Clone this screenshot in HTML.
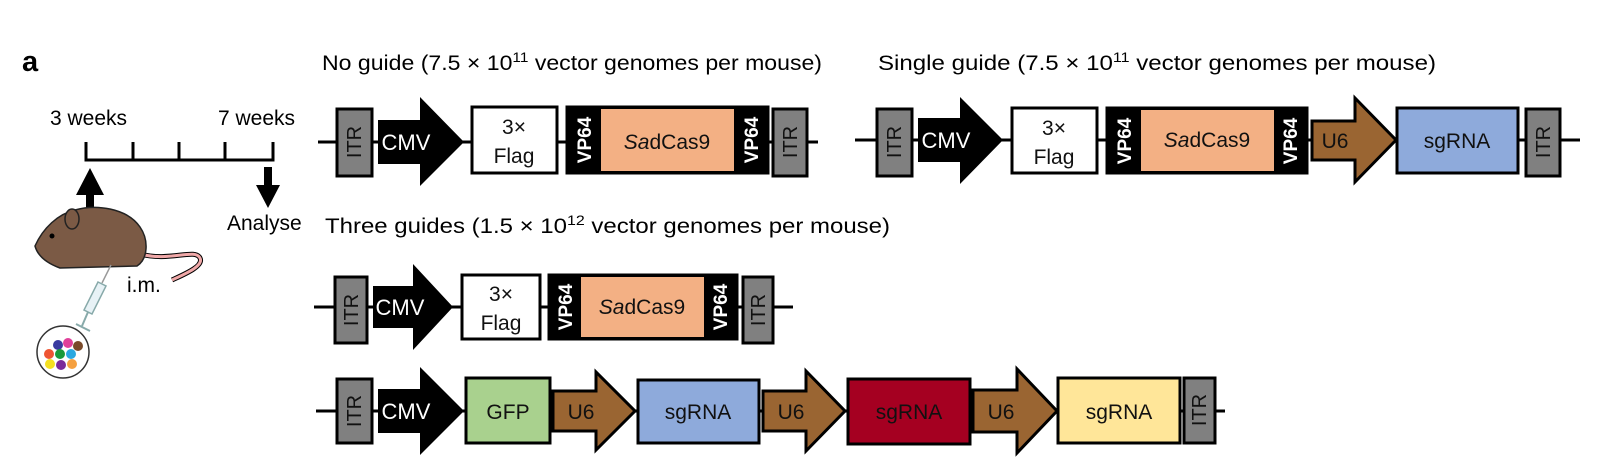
<!DOCTYPE html>
<html><head><meta charset="utf-8"><style>
html,body{margin:0;padding:0;background:#fff;}
svg{display:block;font-family:"Liberation Sans",Arial,sans-serif;}
</style></head><body>
<svg width="1611" height="474" viewBox="0 0 1611 474" xmlns="http://www.w3.org/2000/svg">
<text x="22" y="71" font-size="29" font-weight="bold">a</text>
<text x="50" y="125" font-size="21">3 weeks</text>
<text x="218" y="125" font-size="21">7 weeks</text>
<g stroke="#000" stroke-width="3" fill="none">
<path d="M86 142 V160 H273 V142 M133 142 V160 M179 142 V160 M225 142 V160"/>
</g>
<polygon points="86,208 86,195 76,195 90,168 104,195 94,195 94,208" fill="#000"/>
<polygon points="264,167 272,167 272,185 280,185 268,208 256,185 264,185" fill="#000"/>
<text x="227" y="230" font-size="21">Analyse</text>
<path d="M140 254 C170 262 195 248 200 258 C204 266 185 274 172 280" stroke="#000" stroke-width="5" fill="none"/>
<path d="M140 254 C170 262 195 248 200 258 C204 266 185 274 172 280" stroke="#f0a8a8" stroke-width="3" fill="none"/>
<path d="M35 246 C43 228 58 214 75 210 C96 204 127 208 140 227 C149 240 148 259 137 266 L60 268 C49 264 38 257 35 246 Z" fill="#7b5a45" stroke="#222" stroke-width="1.5"/>
<ellipse cx="72" cy="219" rx="7" ry="10" fill="#7b5a45" stroke="#222" stroke-width="1.5"/>
<circle cx="52" cy="236" r="2.5" fill="#000"/>
<text x="127" y="292" font-size="21">i.m.</text>
<line x1="111" y1="265" x2="102" y2="283" stroke="#999" stroke-width="1.5"/>
<polygon points="98,282 106,286 92,314 84,310" fill="#e8f2f6" stroke="#8aa" stroke-width="1.5"/>
<line x1="88" y1="312" x2="82" y2="326" stroke="#8aa" stroke-width="2"/>
<line x1="76" y1="324" x2="90" y2="331" stroke="#8aa" stroke-width="2"/>
<circle cx="63" cy="352" r="26" fill="#fff" stroke="#333" stroke-width="1.5"/>
<g>
<circle cx="58" cy="345" r="5" fill="#3a3aa0"/><circle cx="68" cy="343" r="5" fill="#e0409a"/><circle cx="78" cy="346" r="5" fill="#7a4a2a"/>
<circle cx="49" cy="354" r="5" fill="#e53"/><circle cx="60" cy="354" r="5" fill="#1a9a3a"/><circle cx="71" cy="354" r="5" fill="#2aa8e0"/>
<circle cx="50" cy="364" r="5" fill="#f5e020"/><circle cx="61" cy="365" r="5" fill="#7a2a9a"/><circle cx="72" cy="364" r="5" fill="#f5a040"/>
</g>

<text x="322" y="70" font-size="21" textLength="500" lengthAdjust="spacingAndGlyphs">No guide (7.5 × 10<tspan dy="-8" font-size="14">11</tspan><tspan dy="8">  vector genomes per mouse)</tspan></text>
<text x="878" y="70" font-size="21" textLength="558" lengthAdjust="spacingAndGlyphs">Single guide (7.5 × 10<tspan dy="-8" font-size="14">11</tspan><tspan dy="8"> vector genomes per mouse)</tspan></text>
<text x="325" y="233" font-size="21" textLength="565" lengthAdjust="spacingAndGlyphs">Three guides (1.5 × 10<tspan dy="-8" font-size="14">12</tspan><tspan dy="8"> vector genomes per mouse)</tspan></text>

<g stroke="#000" stroke-width="3">
<line x1="318" y1="142" x2="818" y2="142"/>
<rect x="337" y="109" width="35" height="67" fill="#808080"/>
<polygon points="378,120 420,120 420,97 464,142 420,186 420,164 378,164" fill="#000" stroke="none"/>
<rect x="472" y="107" width="85" height="66" fill="#fff"/>
<rect x="567" y="107" width="201" height="66" fill="#000"/>
<rect x="601" y="109" width="133" height="62" fill="#f3b084" stroke="none"/>
<rect x="773" y="109" width="34" height="67" fill="#808080"/>

<line x1="855" y1="140" x2="1580" y2="140"/>
<rect x="877" y="109" width="35" height="67" fill="#808080"/>
<polygon points="918,118 960,118 960,97 1003,140 960,184 960,162 918,162" fill="#000" stroke="none"/>
<rect x="1012" y="108" width="85" height="65" fill="#fff"/>
<rect x="1107" y="108" width="200" height="65" fill="#000"/>
<rect x="1141" y="110" width="133" height="61" fill="#f3b084" stroke="none"/>
<polygon points="1312,121 1355,121 1355,98 1396,140 1355,182 1355,160 1312,160" fill="#9a6532"/>
<rect x="1397" y="108" width="121" height="65" fill="#8eaadb"/>
<rect x="1526" y="109" width="34" height="67" fill="#808080"/>

<line x1="314" y1="307" x2="793" y2="307"/>
<rect x="335" y="277" width="32" height="66" fill="#808080"/>
<polygon points="373,286 413,286 413,264 453,307 413,350 413,328 373,328" fill="#000" stroke="none"/>
<rect x="462" y="275" width="78" height="64" fill="#fff"/>
<rect x="549" y="275" width="188" height="64" fill="#000"/>
<rect x="581" y="277" width="123" height="60" fill="#f3b084" stroke="none"/>
<rect x="743" y="277" width="30" height="66" fill="#808080"/>

<line x1="316" y1="411" x2="1225" y2="411"/>
<rect x="337" y="379" width="35" height="64" fill="#808080"/>
<polygon points="378,389 420,389 420,367 464,411 420,455 420,433 378,433" fill="#000" stroke="none"/>
<rect x="466" y="378" width="84" height="65" fill="#a9d18e"/>
<polygon points="553,391 596,391 596,372 635,411 596,450 596,431 553,431" fill="#9a6532"/>
<rect x="638" y="380" width="121" height="63" fill="#8eaadb"/>
<polygon points="763,391 806,391 806,371 845,411 806,451 806,431 763,431" fill="#9a6532"/>
<rect x="848" y="379" width="122" height="65" fill="#a50021"/>
<polygon points="973,390 1017,390 1017,369 1057,411 1017,453 1017,432 973,432" fill="#9a6532"/>
<rect x="1058" y="378" width="122" height="65" fill="#ffe699"/>
<rect x="1184" y="378" width="31" height="65" fill="#808080"/>
</g>

<g font-size="22" fill="#fff" text-anchor="middle">
<text x="406" y="150">CMV</text>
<text x="946" y="148">CMV</text>
<text x="400" y="315">CMV</text>
<text x="406" y="419">CMV</text>
</g>
<g font-size="21" fill="#111" text-anchor="middle">
<text x="514" y="134">3×</text><text x="514" y="163">Flag</text>
<text x="1054" y="135">3×</text><text x="1054" y="164">Flag</text>
<text x="501" y="301">3×</text><text x="501" y="330">Flag</text>
<text x="667" y="149"><tspan font-style="italic">Sa</tspan>dCas9</text>
<text x="1207" y="147"><tspan font-style="italic">Sa</tspan>dCas9</text>
<text x="642" y="314"><tspan font-style="italic">Sa</tspan>dCas9</text>
<text x="1335" y="148">U6</text>
<text x="1457" y="148">sgRNA</text>
<text x="508" y="419">GFP</text>
<text x="581" y="419">U6</text>
<text x="698" y="419">sgRNA</text>
<text x="791" y="419">U6</text>
<text x="909" y="419">sgRNA</text>
<text x="1001" y="419">U6</text>
<text x="1119" y="419">sgRNA</text>
</g>
<g font-size="19" font-weight="bold" fill="#fff" text-anchor="middle">
<text transform="translate(591,140) rotate(-90)">VP64</text>
<text transform="translate(758,140) rotate(-90)">VP64</text>
<text transform="translate(1131,141) rotate(-90)">VP64</text>
<text transform="translate(1297,141) rotate(-90)">VP64</text>
<text transform="translate(572,307) rotate(-90)">VP64</text>
<text transform="translate(727,307) rotate(-90)">VP64</text>
</g>
<g font-size="20" fill="#111" text-anchor="middle">
<text transform="translate(361,142) rotate(-90)">ITR</text>
<text transform="translate(797,142) rotate(-90)">ITR</text>
<text transform="translate(901,142) rotate(-90)">ITR</text>
<text transform="translate(1550,142) rotate(-90)">ITR</text>
<text transform="translate(358,310) rotate(-90)">ITR</text>
<text transform="translate(765,310) rotate(-90)">ITR</text>
<text transform="translate(361,411) rotate(-90)">ITR</text>
<text transform="translate(1206,410) rotate(-90)">ITR</text>
</g>
</svg>
</body></html>
